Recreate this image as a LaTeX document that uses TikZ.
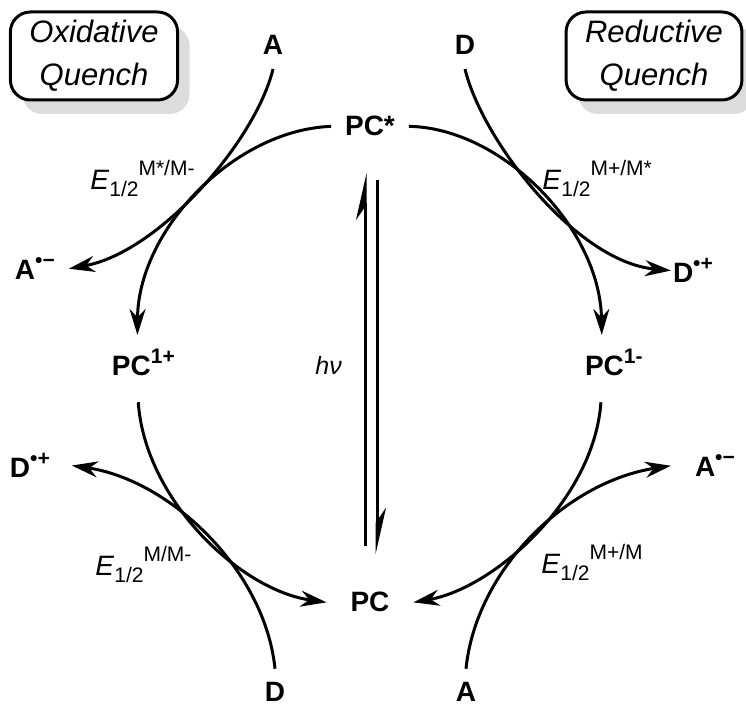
\documentclass[tikz,border=0pt]{standalone}
\usepackage{fontspec}
\setmainfont{Liberation Sans}
\usetikzlibrary{arrows.meta, shadows}
\newcommand\chg[1]{\raisebox{0.45em}{\fontsize{10.5}{12}\selectfont #1}}
\newcommand\lowidx[1]{\raisebox{-0.25em}{\fontsize{10.5}{12}\selectfont #1}}
\newcommand\upidx[1]{\raisebox{0.5em}{\fontsize{10.5}{12}\selectfont #1}}

\begin{document}
\begin{tikzpicture}[x=0.5pt, y=-0.5pt,
    species/.style={inner sep=1pt, outer sep=6pt, font=\fontsize{14}{16}\selectfont\bfseries},
    potential/.style={inner sep=0pt, anchor=base west, font=\fontsize{14}{16}\selectfont},
    quenchbox/.style={draw, line width=1.5pt, rounded corners=10pt, fill=white, align=center, inner xsep=9.5pt, minimum height=44pt, font=\fontsize{15.5}{21.5}\selectfont\itshape, drop shadow={shadow xshift=6pt, shadow yshift=-7pt, fill=black!27}},
    rxn/.style={line width=1.5pt, -{Stealth[length=13pt, width=8pt]}},
    eqm/.style={line width=1.5pt, -{Stealth[left, length=20pt, width=9pt]}}
]
\useasboundingbox (0,0) rectangle (746,710);

% quench labels
\node[quenchbox] (oxq) at (94,56) {Oxidative\\Quench};
\node[quenchbox] (redq) at (654,56) {Reductive\\Quench};

% photocatalyst states
\node[species, anchor=base] (PCs) at (370,136) {PC*};
\node[species, anchor=base, outer sep=11pt] (PC) at (370,612) {PC};
\node[species, anchor=base west] (PCox) at (98,376) {PC\chg{1+}};
\node[species, anchor=base west] (PCred) at (571,376) {PC\chg{1-}};

% acceptors and donors
\node[species, anchor=base] (At) at (273,55) {A};
\node[species, anchor=base] (Dt) at (465,55) {D};
\node[species, anchor=base west] (Aox) at (1,280) {A\chg{•−}};
\node[species, anchor=base west, outer sep=0pt] (Dred) at (671,283) {D\chg{•+}};
\node[species, anchor=base west, outer sep=10pt] (Dox) at (-12,478) {D\chg{•+}};
\node[species, anchor=base west, outer sep=11pt] (Ared) at (671,477) {A\chg{•−}};
\node[species, anchor=base] (Db) at (275,702) {D};
\node[species, anchor=base] (Ab) at (466,702) {A};

% potentials
\node[potential] (E1) at (90,190) {\textit{E}\lowidx{1/2}\upidx{M*/M-}};
\node[potential] (E2) at (542,190) {\textit{E}\lowidx{1/2}\upidx{M+/M*}};
\node[potential] (E3) at (95,576) {\textit{E}\lowidx{1/2}\upidx{M/M-}};
\node[potential] (E4) at (541,574) {\textit{E}\lowidx{1/2}\upidx{M+/M}};
\node[inner sep=0pt, anchor=base west, font=\fontsize{12.5}{14}\selectfont\itshape] (hv) at (315,375) {hν};

% excitation
\draw[eqm] ([xshift=-2.5pt, yshift=11pt]PC.north) -- ([xshift=-2.5pt, yshift=-11.5pt]PCs.south);
\draw[eqm] ([xshift=3.5pt, yshift=-15pt]PCs.south) -- ([xshift=3.5pt, yshift=7pt]PC.north);

% oxidative quench
\draw[rxn] (At.south) .. controls (256,140) and (160,252) .. (Aox.east);
\draw[rxn] (PCs.west) .. controls (234,130) and (138,230) .. ([xshift=-3pt]PCox.north);
\draw[rxn, shorten <=6pt] ([xshift=-3pt]PCox.south) .. controls (145,500) and (240,590) .. (PC.west);
\draw[rxn] (Db.north) .. controls (265,570) and (170,480) .. (Dox.east);

% reductive quench
\draw[rxn] (PCs.east) .. controls (502,128) and (600,228) .. ([xshift=-6pt]PCred.north);
\draw[rxn] (Dt.south) .. controls (482,140) and (576,262) .. (Dred.west);
\draw[rxn, shorten <=6pt] ([xshift=-6pt]PCred.south) .. controls (594,500) and (494,588) .. (PC.east);
\draw[rxn] (Ab.north) .. controls (476,570) and (566,482) .. (Ared.west);
\end{tikzpicture}
\end{document}
